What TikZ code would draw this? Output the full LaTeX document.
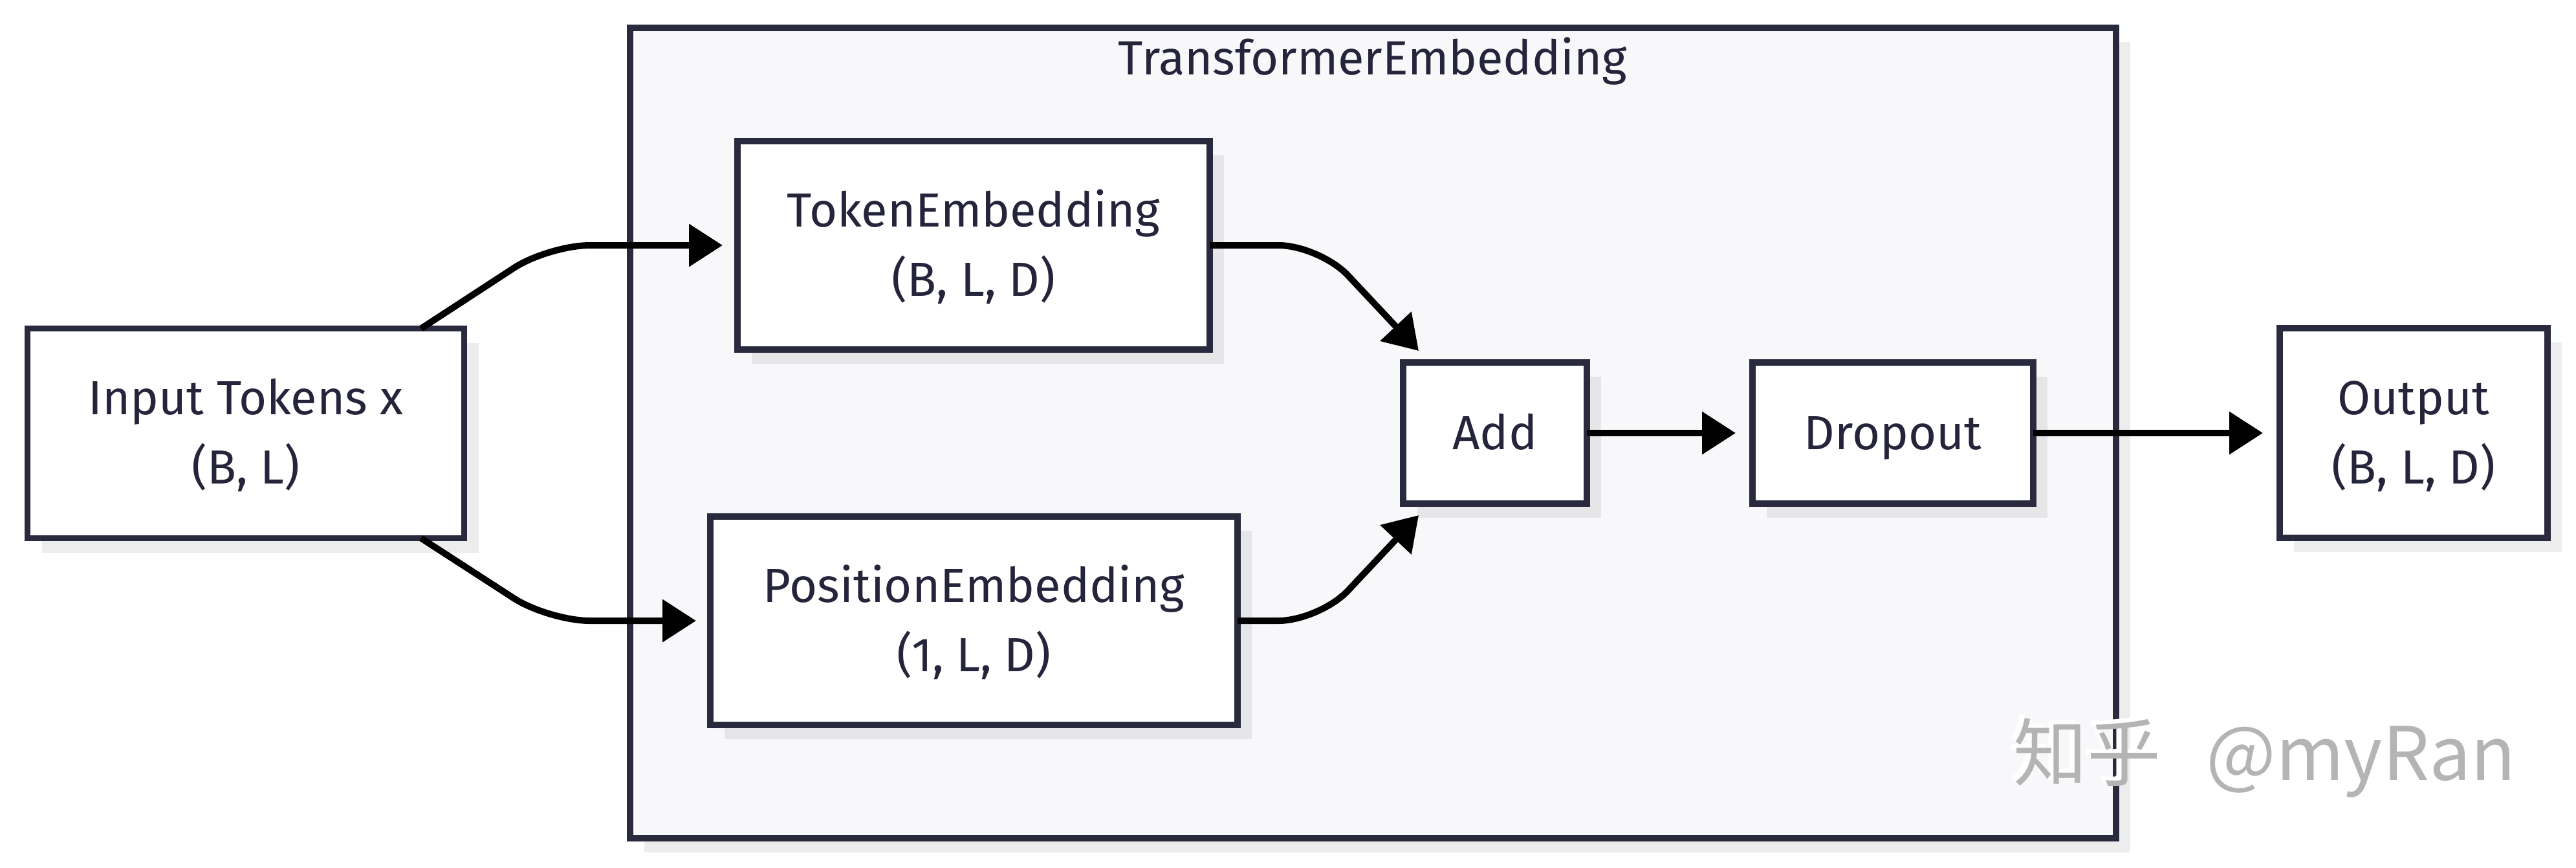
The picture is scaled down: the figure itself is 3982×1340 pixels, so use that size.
\documentclass[tikz,border=0pt]{standalone}
\usepackage{fontspec}
\setmainfont{Fira Sans}
\newfontfamily\cjkfont{Noto Sans CJK SC}
\usetikzlibrary{arrows.meta,calc,shadows}
\definecolor{bordc}{HTML}{2A2A3E}
\definecolor{textc}{HTML}{24243A}
\definecolor{outerfill}{HTML}{F8F8FA}
\definecolor{wmgray}{HTML}{B4B4B4}
\begin{document}
\begin{tikzpicture}[x=0.25pt,y=-0.25pt,
  boxshadow/.style={drop shadow={shadow xshift=5.5pt, shadow yshift=-5.5pt, fill=black, opacity=0.07}},
  box/.style={draw=bordc, line width=2.4pt, fill=white, outer sep=0pt, inner sep=0pt,
    align=center, text=textc, font=\fontsize{18.5}{26.75}\selectfont,
    text height=12.75pt, text depth=0pt, boxshadow},
  twoline/.style={box, text height=39pt, text depth=0pt},
  groupbox/.style={draw=bordc, line width=2.4pt, fill=outerfill, outer sep=0pt, inner sep=0pt, boxshadow},
  conn/.style={draw=black, line width=2.5pt, line cap=butt, -{Triangle[length=13pt,width=16pt]}, rounded corners=16pt},
]
\useasboundingbox (0,0) rectangle (3982,1340);

% group
\node[groupbox, minimum width=574.25pt, minimum height=313pt] (grp) at (2122.5,669) {};
\node[anchor=base, text=textc, font=\fontsize{18.5}{20}\selectfont] (title) at (2122,115) {TransformerEmbedding};

% nodes
\node[twoline, minimum width=168.75pt, minimum height=81pt] (inp) at (380,669.5) {Input Tokens x\\(B, L)};
\node[twoline, minimum width=182.5pt, minimum height=80.5pt] (tok) at (1505,379) {TokenEmbedding\\(B, L, D)};
\node[twoline, minimum width=203.75pt, minimum height=80.5pt] (pos) at (1505.5,959) {PositionEmbedding\\(1, L, D)};
\node[box, minimum width=71pt, minimum height=54.5pt] (add) at (2311,669) {Add};
\node[box, minimum width=108.5pt, minimum height=54.5pt] (drop) at (2926,669) {Dropout};
\node[twoline, minimum width=103.5pt, minimum height=81pt] (out) at (3731,669) {Output\\(B, L, D)};

% bend points
\coordinate (k1) at (848,379);
\coordinate (k2) at (848,959);
\coordinate (k3) at (2040,379);
\coordinate (k4) at (2040,959);

% connectors
\draw[conn, shorten >=5.75pt] ($(inp.north)+(271,0)$) -- (k1) -- (tok.west);
\draw[conn, shorten >=5.5pt] ($(inp.south)+(271,0)$) -- (k2) -- (pos.west);
\draw[conn] (tok.east) -- (k3) -- ($(add.north west)+(24,-18)$);
\draw[conn] (pos.east) -- (k4) -- ($(add.south west)+(24,18)$);
\draw[conn, shorten >=6.5pt] (add.east) -- (drop.west);
\draw[conn, shorten >=6.5pt] (drop.east) -- (out.west);

% watermark
\node[anchor=base west, text=white, font=\cjkfont\fontsize{28.5}{30}\selectfont, inner sep=0pt] (wmw) at (3104,1199) {知乎\hspace{11pt} @myRan};
\node[anchor=base west, text=wmgray, font=\cjkfont\fontsize{28.5}{30}\selectfont, inner sep=0pt] (wm) at (3112,1205) {知乎\hspace{11pt} @myRan};
\end{tikzpicture}
\end{document}
